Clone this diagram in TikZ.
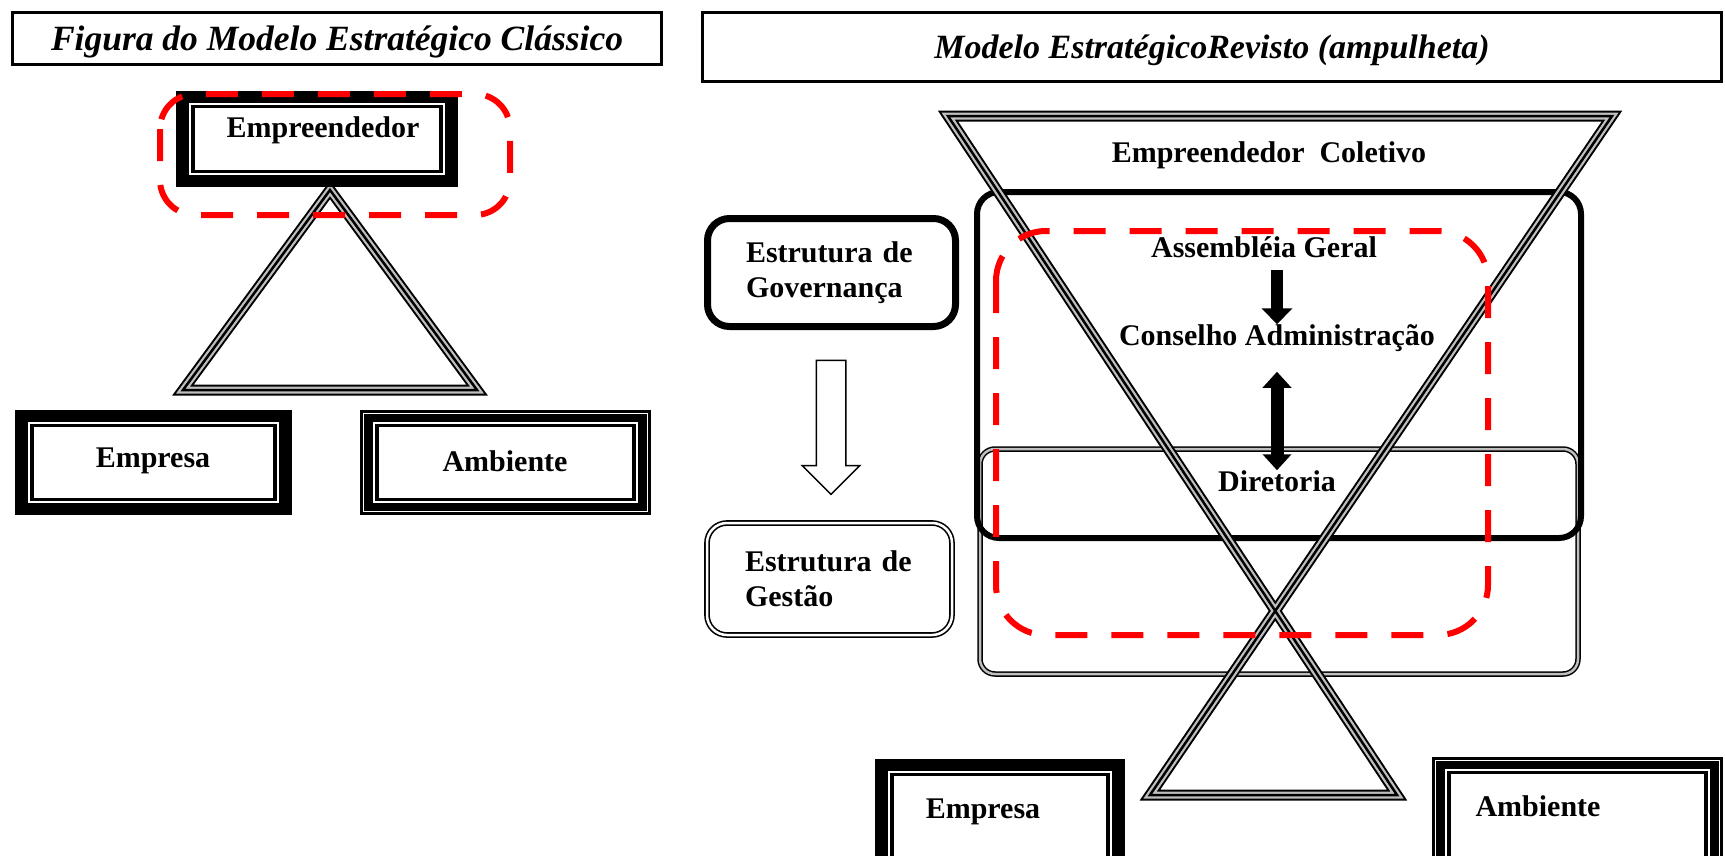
\documentclass[tikz,border=0pt]{standalone}
\usepackage{fontspec}
\setmainfont{Liberation Serif}
\usetikzlibrary{positioning}
\usetikzlibrary{arrows.meta}
\usetikzlibrary{shapes.arrows}
\tikzset{
    txt/.style = {inner sep=0pt, font=\fontsize{30}{35}\selectfont\bfseries},
    titulo/.style = {draw=black, line width=3pt, inner sep=0pt, text height=23pt, text depth=0pt, font=\fontsize{34}{40}\selectfont\bfseries\itshape},
    govbox/.style = {txt, draw=black, line width=7pt, rounded corners=22pt, align=left, inner xsep=38.5pt, text width=171pt, minimum width=248pt, minimum height=108pt},
    gesbox/.style = {txt, draw=black, line width=1.6pt, double=white, double distance=2.5pt, rounded corners=20pt, align=left, inner xsep=38pt, text width=169pt, minimum width=245pt, minimum height=112pt},
    setaoca/.style = {single arrow, draw=black, line width=1.5pt, fill=white, shape border rotate=270, minimum height=134pt, single arrow head extend=14pt, single arrow head indent=0pt, inner sep=14pt},
    setapreta/.style = {-{Triangle[width=30pt,length=16pt]}, line width=12pt},
    setadupla/.style = {{Triangle[width=28pt,length=16pt]}-{Triangle[width=28pt,length=16pt]}, line width=13pt},
    tracejado/.style = {draw=red, line width=6pt, dash pattern=on 32pt off 24pt},
    moldgov/.style = {draw=black, line width=6pt, rounded corners=22pt},
    moldges/.style = {draw=black, line width=1.5pt, double=gray!50, double distance=2.5pt, rounded corners=15pt},
}
% frame with black band and white inner box
\newcommand{\moldura}[5][white]{%
  \fill[black] (#2,#3) rectangle (#4,#5);
  \draw[#1, line width=1.2pt] (#2+3.5,#3+3.5) rectangle (#4-3.5,#5-3.5);
  \draw[white, line width=1.6pt] (#2+14,#3+13) rectangle (#4-14,#5-13);
  \draw[black, line width=1.5pt, fill=white] (#2+18,#3+16.5) rectangle (#4-18,#5-16.5);
}

\begin{document}
\begin{tikzpicture}[x=1pt,y=-1pt]
\useasboundingbox (0,0) rectangle (1725,855);
\clip (0,0) rectangle (1725,855);

% classic model
\node[titulo, minimum width=649pt, minimum height=52pt, font=\fontsize{35.5}{40}\selectfont\bfseries\itshape] at (337,38.5) (tituloL) {Figura do Modelo Estratégico Clássico};
\foreach \w/\c in {11/black,7/black!25,2.5/black}
  \draw[line width=\w pt, \c, line join=miter] (330,190) -- (477,390) -- (183,390) -- cycle;
\moldura[black]{176}{91}{458}{187}
\node[txt] at (323,130) (empL) {Empreendedor};
\moldura[black]{15}{410}{292}{515}
\node[txt] at (153,461) (empresaL) {Empresa};
\moldura{360}{410}{651}{515}
\node[txt] at (505,461) (ambienteL) {Ambiente};
\draw[tracejado, rounded corners=35pt] (160,94) rectangle (510,215);

% revised model (hourglass)
\node[titulo, minimum width=1019pt, minimum height=69pt] at (1212,47) (tituloR) {Modelo EstratégicoRevisto (ampulheta)};
\node[govbox] at (831.5,272.5) (estGov) {Estrutura de\\Governança};
\node[setaoca] at (831,420) (seta) {};
\node[gesbox] at (829.5,579) (estGes) {Estrutura de\\Gestão};

\draw[moldges] (980,449) rectangle (1578,674);
\draw[moldgov] (977,192) rectangle (1581,538);
\foreach \w/\c in {11/black,7/black!25,2.5/black}
  \draw[line width=\w pt, \c, line join=miter] (948,116) -- (1397,795) -- (1150,795) -- (1612,116) -- cycle;

\node[txt] at (1269,155) (coletivo) {Empreendedor\ \ Coletivo};
\node[txt] at (1264,247) (assembleia) {Assembléia Geral};
\node[txt] at (1277,338) (conselho) {Conselho Administração};
\node[txt] at (1277,481) (diretoria) {Diretoria};
\draw[setapreta, shorten <=12pt] (assembleia.south -| conselho.north) -- (conselho.north);
\draw[setadupla, shorten <=20pt] (conselho.south) -- (diretoria.north);

\moldura[black]{875}{759}{1125}{875}
\node[txt] at (983,812) (empresaR) {Empresa};
\moldura{1432}{757}{1723}{875}
\node[txt] at (1538,806) (ambienteR) {Ambiente};

\draw[tracejado, rounded corners=50pt] (996,231) rectangle (1488,635);
\end{tikzpicture}
\end{document}
